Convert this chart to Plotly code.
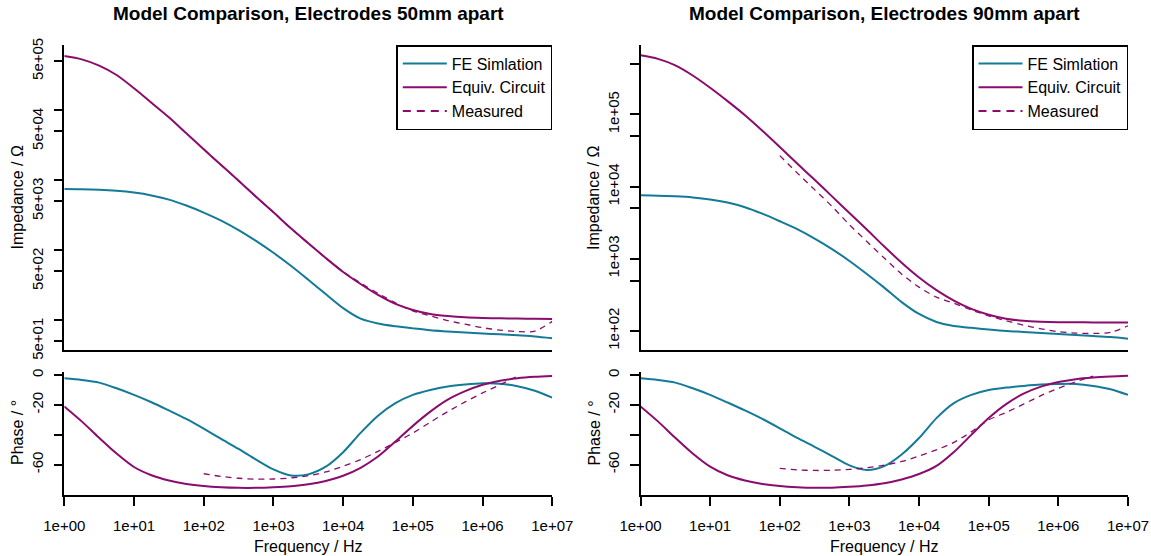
import plotly.graph_objects as go

# ---------------- data ----------------
freq = [1, 1.778, 3.162, 5.623, 10, 17.78, 31.62, 56.23, 100, 177.8, 316.2, 562.3,
        1000, 1778, 3162, 5623, 10000, 17783, 31623, 56234, 100000, 177828, 316228,
        562341, 1000000, 1778279, 3162278, 5623413, 10000000]
freq_meas_mag = freq[8:]          # measured impedance: 1e2 .. 1e7
freq_meas_ph = freq[8:27]         # measured phase: 1e2 .. 3.2e6

# log10 of impedance magnitude (Ohm)
fe50_log10Z = [3.871, 3.868, 3.86, 3.845, 3.82, 3.78, 3.72, 3.635, 3.535, 3.42, 3.285, 3.13, 2.96,
               2.775, 2.575, 2.37, 2.17, 2.02, 1.95, 1.91, 1.88, 1.853, 1.836, 1.82, 1.807,
               1.795, 1.78, 1.764, 1.739]
eq50_log10Z = [5.771, 5.724, 5.635, 5.50, 5.31, 5.104, 4.896, 4.667, 4.438, 4.214, 3.99, 3.762,
               3.538, 3.31, 3.096, 2.886, 2.686, 2.514, 2.357, 2.229, 2.143, 2.086, 2.057,
               2.038, 2.029, 2.024, 2.02, 2.017, 2.014]
ms50_log10Z = [4.438, 4.214, 3.99, 3.762, 3.538, 3.31, 3.096, 2.886, 2.69, 2.53, 2.38, 2.245,
               2.13, 2.06, 1.99, 1.94, 1.89, 1.855, 1.835, 1.84, 1.98]

fe90_log10Z = [3.879, 3.875, 3.865, 3.85, 3.823, 3.78, 3.715, 3.625, 3.52, 3.41, 3.28, 3.135, 2.97,
               2.79, 2.6, 2.40, 2.235, 2.125, 2.067, 2.043, 2.02, 2.0, 1.987, 1.972, 1.958,
               1.943, 1.93, 1.915, 1.893]
eq90_log10Z = [5.819, 5.77, 5.68, 5.54, 5.37, 5.185, 4.99, 4.775, 4.55, 4.32, 4.095, 3.865,
               3.635, 3.405, 3.17, 2.945, 2.74, 2.565, 2.42, 2.305, 2.225, 2.17, 2.14, 2.128,
               2.122, 2.12, 2.118, 2.117, 2.116]
ms90_log10Z = [4.43, 4.19, 3.958, 3.726, 3.472, 3.24, 3.01, 2.787, 2.607, 2.468, 2.385, 2.29,
               2.21, 2.14, 2.08, 2.03, 1.99, 1.97, 1.965, 1.98, 2.07]

# phase (degrees)
fe50_ph = [-2.2, -3.3, -5.1, -8.9, -13.3, -18.2, -23.7, -29.4, -35.9, -42.7, -49.4, -56.5, -63.1,
           -67.1, -66.4, -61.3, -51.6, -38.7, -27.2, -18.8, -13.3, -10.0, -7.7, -6.4, -5.6,
           -5.8, -7.5, -10.5, -15.1]
eq50_ph = [-21.0, -31.0, -42.0, -52.5, -61.5, -67.0, -70.5, -72.8, -74.2, -75.0, -75.4, -75.4,
           -75.0, -74.3, -73.0, -70.8, -67.3, -62.0, -54.5, -44.5, -34.0, -24.5, -16.5, -10.8,
           -6.5, -3.8, -2.2, -1.2, -0.6]
ms50_ph = [-66.0, -67.8, -69.0, -69.6, -69.5, -68.8, -67.3, -64.8, -61.0, -56.5, -51.0, -45.0,
           -38.8, -31.5, -24.5, -18.0, -12.0, -6.5, -0.8]

fe90_ph = [-2.2, -3.3, -5.1, -8.9, -13.3, -18.4, -23.7, -29.4, -35.6, -42.1, -48.0, -54.2, -60.4,
           -63.5, -60.9, -53.1, -42.1, -28.8, -18.8, -13.3, -10.0, -8.4, -7.3, -6.4, -6.0,
           -6.0, -7.3, -9.5, -13.3]
eq90_ph = [-21.0, -31.0, -42.0, -52.5, -61.3, -67.0, -70.5, -72.8, -74.2, -75.0, -75.4, -75.3,
           -74.7, -73.8, -72.3, -69.8, -66.2, -60.8, -51.5, -40.0, -28.8, -19.5, -12.5, -7.8,
           -4.7, -2.8, -1.7, -1.0, -0.5]
ms90_ph = [-62.4, -63.4, -63.8, -63.7, -63.1, -62.0, -60.3, -57.8, -54.2, -50.0, -45.0, -38.0,
           -30.0, -25.0, -19.5, -13.8, -8.9, -4.5, -0.8]

x_tickvals = [1, 10, 100, 1000, 10000, 100000, 1000000, 10000000]
x_ticktext = ["1e+00", "1e+01", "1e+02", "1e+03", "1e+04", "1e+05", "1e+06", "1e+07"]
y50_tickvals = [50, 100, 500, 1000, 5000, 10000, 50000, 100000, 500000]
y50_ticktext = ["5e+01", "", "5e+02", "", "5e+03", "", "5e+04", "", "5e+05"]
y90_tickvals = [100, 500, 1000, 5000, 10000, 50000, 100000, 500000]
y90_ticktext = ["1e+02", "", "1e+03", "", "1e+04", "", "1e+05", ""]
ph_tickvals = [0, -20, -40, -60]
ph_ticktext = ["0", "-20", "", "-60"]

titles = ["Model Comparison, Electrodes 50mm apart", "Model Comparison, Electrodes 90mm apart"]
series_names = ["FE Simlation", "Equiv. Circuit", "Measured"]

# ---------------- styling ----------------
TEAL = "#137a98"
PURPLE = "#8b0c6c"
FONT = "Liberation Sans, Arial, Helvetica, sans-serif"
W, H = 1151, 556

def px_x(p):
    return p / W

def px_y(p):
    return 1 - p / H

left_dom = [px_x(64.3), px_x(552.3)]
right_dom = [px_x(640.5), px_x(1128.0)]
top_dom = [px_y(350), px_y(45)]
bot_dom = [px_y(495), px_y(371.7)]

fig = go.Figure()

def pow10(vals):
    return [10 ** v for v in vals]

panels = [
    dict(xa="x", ya="y", xb="x2", yb="y2", fe=fe50_log10Z, eq=eq50_log10Z, ms=ms50_log10Z,
         feph=fe50_ph, eqph=eq50_ph, msph=ms50_ph, legend="legend"),
    dict(xa="x3", ya="y3", xb="x4", yb="y4", fe=fe90_log10Z, eq=eq90_log10Z, ms=ms90_log10Z,
         feph=fe90_ph, eqph=eq90_ph, msph=ms90_ph, legend="legend2"),
]

def line(color, width, dash="solid"):
    return dict(color=color, width=width, dash=dash, shape="spline", smoothing=0.8)

for p in panels:
    fig.add_trace(go.Scatter(x=freq, y=pow10(p["fe"]), mode="lines", xaxis=p["xa"], yaxis=p["ya"],
                             line=line(TEAL, 2), showlegend=False))
    fig.add_trace(go.Scatter(x=freq, y=pow10(p["eq"]), mode="lines", xaxis=p["xa"], yaxis=p["ya"],
                             line=line(PURPLE, 2), showlegend=False))
    fig.add_trace(go.Scatter(x=freq_meas_mag, y=pow10(p["ms"]), mode="lines", xaxis=p["xa"], yaxis=p["ya"],
                             line=line(PURPLE, 1.3, "6px,5px"), showlegend=False))
    fig.add_trace(go.Scatter(x=freq, y=p["feph"], mode="lines", xaxis=p["xb"], yaxis=p["yb"],
                             line=line(TEAL, 2), showlegend=False))
    fig.add_trace(go.Scatter(x=freq, y=p["eqph"], mode="lines", xaxis=p["xb"], yaxis=p["yb"],
                             line=line(PURPLE, 2), showlegend=False))
    fig.add_trace(go.Scatter(x=freq_meas_ph, y=p["msph"], mode="lines", xaxis=p["xb"], yaxis=p["yb"],
                             line=line(PURPLE, 1.3, "6px,5px"), showlegend=False))
    # legend entries
    for name, col, dash in zip(series_names, [TEAL, PURPLE, PURPLE], ["solid", "solid", "8px,6px"]):
        fig.add_trace(go.Scatter(x=[None], y=[None], mode="lines", name=name, xaxis=p["xa"], yaxis=p["ya"],
                                 line=dict(color=col, width=2, dash=dash), legend=p["legend"]))

axis_common = dict(showline=True, linecolor="black", linewidth=1.5, ticks="outside", ticklen=9,
                   tickwidth=1.5, tickcolor="black", showgrid=False, zeroline=False,
                   tickfont=dict(family=FONT, size=15, color="black"), automargin=False)

xrange = [0, 7]
layout = dict(
    width=W, height=H, margin=dict(l=0, r=0, t=0, b=0),
    plot_bgcolor="white", paper_bgcolor="white",
    font=dict(family=FONT, size=15, color="black"),
)
for xname, dom, anchor, show in [("xaxis", left_dom, "y", False), ("xaxis2", left_dom, "y2", True),
                                 ("xaxis3", right_dom, "y3", False), ("xaxis4", right_dom, "y4", True)]:
    d = dict(axis_common, type="log", range=xrange, domain=dom, anchor=anchor)
    if show:
        d.update(tickvals=x_tickvals, ticktext=x_ticktext, ticklabelstandoff=7)
    else:
        d.update(ticks="", showticklabels=False)
    layout[xname] = d

layout["yaxis"] = dict(axis_common, type="log", range=[1.571, 5.929], domain=top_dom, anchor="x",
                       tickvals=y50_tickvals, ticktext=y50_ticktext, tickangle=-90, ticklabelstandoff=5)
layout["yaxis3"] = dict(axis_common, type="log", range=[1.736, 5.9625], domain=top_dom, anchor="x3",
                        tickvals=y90_tickvals, ticktext=y90_ticktext, tickangle=-90, ticklabelstandoff=5)
layout["yaxis2"] = dict(axis_common, range=[-80.2, 2.2], domain=bot_dom, anchor="x2",
                        tickvals=ph_tickvals, ticktext=ph_ticktext, tickangle=-90, ticklabelstandoff=5)
layout["yaxis4"] = dict(axis_common, range=[-80.2, 2.2], domain=bot_dom, anchor="x4",
                        tickvals=ph_tickvals, ticktext=ph_ticktext, tickangle=-90, ticklabelstandoff=5)

legend_common = dict(bgcolor="white", bordercolor="black", borderwidth=1.5,
                     font=dict(family=FONT, size=16, color="black"),
                     xanchor="right", yanchor="top", tracegroupgap=0, itemwidth=44)
layout["legend"] = dict(legend_common, x=px_x(552.3), y=px_y(45))
layout["legend2"] = dict(legend_common, x=px_x(1128.0), y=px_y(45))

fig.update_layout(**layout)

ann = []
for t, cx in zip(titles, [(64.3 + 552.3) / 2, (640.5 + 1128.0) / 2]):
    ann.append(dict(text="<b>" + t + "</b>", x=px_x(cx), y=px_y(14), xref="paper", yref="paper",
                    showarrow=False, xanchor="center", yanchor="middle", font=dict(size=19)))
    ann.append(dict(text="Frequency / Hz", x=px_x(cx), y=px_y(546), xref="paper", yref="paper",
                    showarrow=False, xanchor="center", yanchor="middle", font=dict(size=16)))
for lx in [17, 593.5]:
    ann.append(dict(text="Impedance / Ω", x=px_x(lx), y=px_y(197.5), xref="paper", yref="paper",
                    showarrow=False, textangle=-90, xanchor="center", yanchor="middle", font=dict(size=16)))
    ann.append(dict(text="Phase / °", x=px_x(lx), y=px_y(433), xref="paper", yref="paper",
                    showarrow=False, textangle=-90, xanchor="center", yanchor="middle", font=dict(size=16)))
fig.update_layout(annotations=ann)

fig.write_html("out.html")
